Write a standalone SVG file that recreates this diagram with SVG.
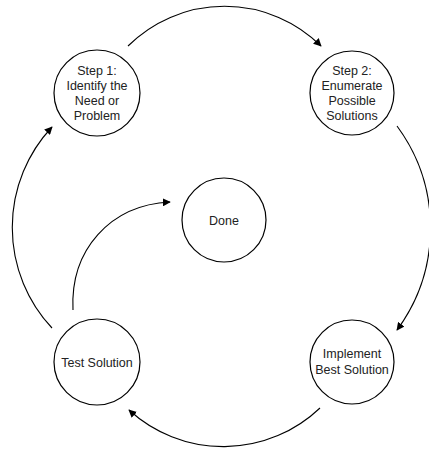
<svg xmlns="http://www.w3.org/2000/svg" width="429" height="450" viewBox="0 0 429 450">
<style>
.node circle{fill:#fff;stroke:#000;stroke-width:1.2}
.node text{font-family:"Liberation Sans",Arial,sans-serif;font-size:12.5px;fill:#222;text-anchor:middle}
.conn path{fill:none;stroke:#000;stroke-width:1.1;marker-end:url(#ah)}
</style>
<defs>
<marker id="ah" viewBox="0 0 10 10" refX="9" refY="5" markerWidth="8" markerHeight="8" markerUnits="userSpaceOnUse" orient="auto">
<path d="M0,0 L10,5 L0,10 z" fill="#000"/>
</marker>
</defs>
<rect width="429" height="450" fill="#fff"/>
<g id="connectors" class="conn">
<path d="M128,46 A137,137 0 0 1 321,46"/>
<path d="M397,126 A172,172 0 0 1 397,330"/>
<path d="M320,408 A140,140 0 0 1 129,410"/>
<path d="M52,328 A147,147 0 0 1 52,127"/>
<path d="M73,310 C70,250 110,205 170,202"/>
</g>
<g id="step1" class="node">
<circle cx="97" cy="93" r="43"/>
<text x="97" y="75">Step 1:</text>
<text x="97" y="90">Identify the</text>
<text x="97" y="105">Need or</text>
<text x="97" y="120">Problem</text>
</g>
<g id="step2" class="node">
<circle cx="352" cy="93" r="42"/>
<text x="352" y="75">Step 2:</text>
<text x="352" y="90">Enumerate</text>
<text x="352" y="105">Possible</text>
<text x="352" y="120">Solutions</text>
</g>
<g id="done" class="node">
<circle cx="224" cy="220" r="42"/>
<text x="224" y="224.5">Done</text>
</g>
<g id="test" class="node">
<circle cx="97" cy="362" r="43"/>
<text x="97" y="366.5">Test Solution</text>
</g>
<g id="implement" class="node">
<circle cx="352" cy="362" r="42"/>
<text x="352" y="358">Implement</text>
<text x="352" y="374">Best Solution</text>
</g>
</svg>
